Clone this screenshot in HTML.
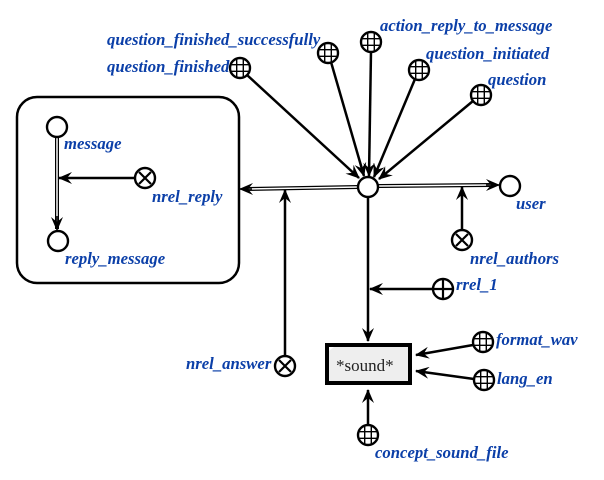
<!DOCTYPE html>
<html><head><meta charset="utf-8"><style>
html,body{margin:0;padding:0;background:#fff;width:604px;height:480px;overflow:hidden}
text.l{font-family:"Liberation Serif",serif;font-style:italic;font-weight:bold;font-size:16.7px;fill:#0b3fa8}
</style></head><body>
<svg width="604" height="480" viewBox="0 0 604 480" xmlns="http://www.w3.org/2000/svg">
<defs>
<marker id="a" viewBox="0 0 14 12" refX="13" refY="6" markerWidth="14" markerHeight="12" markerUnits="userSpaceOnUse" orient="auto">
<path d="M0,0 L14,6 L0,12 L5,6 Z" fill="#000"/></marker>
<g id="grid"><circle r="10" fill="#fff" stroke="#000" stroke-width="2.4"/>
<path d="M-3.3,-9.4V9.4M3.3,-9.4V9.4M-9.4,-3.3H9.4M-9.4,3.3H9.4" stroke="#000" stroke-width="1.4"/></g>
<g id="x"><circle r="10" fill="#fff" stroke="#000" stroke-width="2.4"/>
<path d="M-6,-6L6,6M6,-6L-6,6" stroke="#000" stroke-width="2.2"/></g>
<g id="p"><circle r="10" fill="#fff" stroke="#000" stroke-width="2.4"/>
<path d="M0,-10V10M-10,0H10" stroke="#000" stroke-width="2.2"/></g>
</defs>
<rect x="17" y="97" width="222" height="186" rx="20" fill="#fff" stroke="#000" stroke-width="2.5"/>
<line x1="57" y1="137" x2="57" y2="229" stroke="#000" stroke-width="4" />
<line x1="57" y1="137" x2="57" y2="229" stroke="#fff" stroke-width="1.5"/>
<line x1="57" y1="216" x2="57" y2="230" stroke="#000" stroke-width="1.5" marker-end="url(#a)"/>
<line x1="135" y1="178" x2="59" y2="178" stroke="#000" stroke-width="2.5" marker-end="url(#a)"/>
<circle cx="57" cy="127" r="10" fill="#fff" stroke="#000" stroke-width="2.4"/>
<circle cx="58" cy="241" r="10" fill="#fff" stroke="#000" stroke-width="2.4"/>
<use href="#x" x="145" y="178"/>
<text class="l" x="64" y="149">message</text>
<text class="l" x="152" y="202">nrel_reply</text>
<text class="l" x="65" y="264">reply_message</text>
<g stroke="#000" stroke-width="2.5" marker-end="url(#a)">
<line x1="247" y1="75" x2="359" y2="178"/>
<line x1="331" y1="62" x2="364" y2="176"/>
<line x1="371" y1="51" x2="369" y2="176"/>
<line x1="415" y1="79" x2="374" y2="177"/>
<line x1="473" y1="101" x2="379" y2="179"/>
</g>
<line x1="358" y1="187" x2="246" y2="189" stroke="#000" stroke-width="4"/>
<line x1="358" y1="187" x2="246" y2="189" stroke="#fff" stroke-width="1.5"/>
<line x1="252" y1="189" x2="240" y2="189" stroke="#000" stroke-width="1.5" marker-end="url(#a)"/>
<line x1="378" y1="186" x2="490" y2="185" stroke="#000" stroke-width="4"/>
<line x1="378" y1="186" x2="490" y2="185" stroke="#fff" stroke-width="1.5"/>
<line x1="486" y1="185" x2="499" y2="185" stroke="#000" stroke-width="1.5" marker-end="url(#a)"/>
<line x1="462" y1="230" x2="462" y2="187" stroke="#000" stroke-width="2.5" marker-end="url(#a)"/>
<line x1="285" y1="356" x2="285" y2="190" stroke="#000" stroke-width="2.5" marker-end="url(#a)"/>
<line x1="368" y1="197" x2="368" y2="341" stroke="#000" stroke-width="2.5" marker-end="url(#a)"/>
<line x1="433" y1="289" x2="370" y2="289" stroke="#000" stroke-width="2.5" marker-end="url(#a)"/>
<line x1="473" y1="345" x2="416" y2="355" stroke="#000" stroke-width="2.5" marker-end="url(#a)"/>
<line x1="474" y1="379" x2="416" y2="371" stroke="#000" stroke-width="2.5" marker-end="url(#a)"/>
<line x1="368" y1="425" x2="368" y2="390" stroke="#000" stroke-width="2.5" marker-end="url(#a)"/>
<circle cx="368" cy="187" r="10" fill="#fff" stroke="#000" stroke-width="2.4"/>
<circle cx="510" cy="186" r="10" fill="#fff" stroke="#000" stroke-width="2.4"/>
<use href="#grid" x="240" y="68"/>
<use href="#grid" x="328" y="53"/>
<use href="#grid" x="371" y="42"/>
<use href="#grid" x="419" y="70"/>
<use href="#grid" x="481" y="95"/>
<use href="#x" x="462" y="240"/>
<use href="#x" x="285" y="366"/>
<use href="#p" x="443" y="289"/>
<use href="#grid" x="483" y="342"/>
<use href="#grid" x="484" y="380"/>
<use href="#grid" x="368" y="435"/>
<rect x="327" y="345" width="83" height="38" fill="#eee" stroke="#000" stroke-width="4"/>
<path d="M329,347h5l-5,4z" fill="#fff"/>
<text x="336" y="371" style="font-family:'Liberation Serif',serif;font-size:17px;fill:#222">*sound*</text>
<text class="l" x="107" y="45">question_finished_successfully</text>
<text class="l" x="107" y="72">question_finished</text>
<text class="l" x="380" y="31">action_reply_to_message</text>
<text class="l" x="426" y="59">question_initiated</text>
<text class="l" x="488" y="85">question</text>
<text class="l" x="516" y="209">user</text>
<text class="l" x="470" y="264">nrel_authors</text>
<text class="l" x="456" y="290">rrel_1</text>
<text class="l" x="186" y="369">nrel_answer</text>
<text class="l" x="496" y="345">format_wav</text>
<text class="l" x="497" y="384">lang_en</text>
<text class="l" x="375" y="458">concept_sound_file</text>
</svg>
</body></html>
